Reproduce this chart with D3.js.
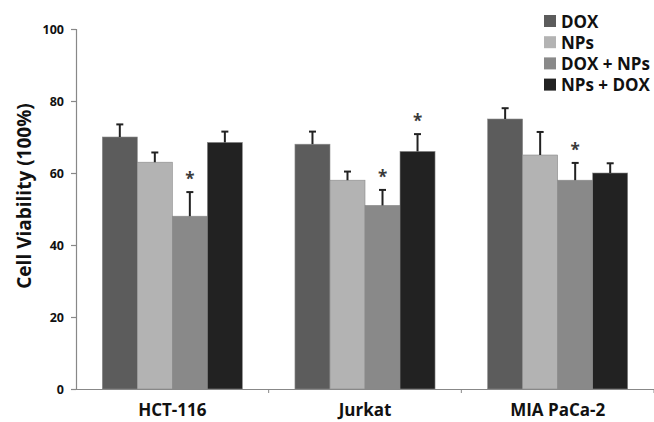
<!DOCTYPE html>
<html>
<head>
<meta charset="utf-8">
<script src="https://cdn.jsdelivr.net/npm/d3@7"></script>
<style>
  body { margin: 0; background: #fff; }
  text { font-family: "Open Sans", "Liberation Sans", sans-serif; font-weight: bold; }
</style>
</head>
<body>
<div id="chart"></div>
<script>
const cellLines = ["HCT-116", "Jurkat", "MIA PaCa-2"];
const treatments = ["DOX", "NPs", "DOX + NPs", "NPs + DOX"];
const colors = ["#5c5c5c", "#b3b3b3", "#898989", "#222222"];

// mean viability per treatment, one value per cell line
const doxValues = [70, 68, 75];
const npsValues = [63, 58, 65];
const doxNpsValues = [48, 51, 58];
const npsDoxValues = [68.5, 66, 60];

// upper error bar (SD)
const doxErr = [3.5, 3.5, 3];
const npsErr = [2.7, 2.4, 6.4];
const doxNpsErr = [6.7, 4.3, 4.8];
const npsDoxErr = [3, 4.8, 2.7];

// significance markers
const doxStars = [false, false, false];
const npsStars = [false, false, false];
const doxNpsStars = [true, true, true];
const npsDoxStars = [false, true, false];

const yTicks = [0, 20, 40, 60, 80, 100];

const seriesValues = [doxValues, npsValues, doxNpsValues, npsDoxValues];
const seriesErr = [doxErr, npsErr, doxNpsErr, npsDoxErr];
const seriesStars = [doxStars, npsStars, doxNpsStars, npsDoxStars];

const width = 654;
const height = 422;
const margin = { top: 29, right: 0, bottom: 33, left: 76 };

const svg = d3.select("#chart")
  .append("svg")
  .attr("width", width)
  .attr("height", height);

const x = d3.scaleBand()
  .domain(cellLines)
  .range([margin.left, width - margin.right])
  .paddingInner(0.273)
  .paddingOuter(0.1365);

const xInner = d3.scaleBand()
  .domain(treatments)
  .range([0, x.bandwidth()]);

const y = d3.scaleLinear()
  .domain([0, 100])
  .range([height - margin.bottom, margin.top]);

const rows = [];
cellLines.forEach((c, i) => {
  treatments.forEach((t, j) => {
    rows.push({
      cell: c,
      treatment: t,
      color: colors[j],
      value: seriesValues[j][i],
      err: seriesErr[j][i],
      star: seriesStars[j][i],
    });
  });
});

// bars
svg.append("g")
  .selectAll("rect")
  .data(rows)
  .join("rect")
  .attr("x", (d) => x(d.cell) + xInner(d.treatment))
  .attr("y", (d) => y(d.value))
  .attr("width", xInner.bandwidth())
  .attr("height", (d) => y(0) - y(d.value))
  .attr("fill", (d) => d.color)
  .attr("stroke", "#8a8a8a")
  .attr("stroke-width", 0.6);

// error bars
const errG = svg.append("g")
  .attr("stroke", "#222")
  .attr("stroke-width", 2);

const cx = (d) => x(d.cell) + xInner(d.treatment) + xInner.bandwidth() / 2;

errG.selectAll("line.stem")
  .data(rows)
  .join("line")
  .attr("class", "stem")
  .attr("x1", cx)
  .attr("x2", cx)
  .attr("y1", (d) => y(d.value))
  .attr("y2", (d) => y(d.value + d.err));

errG.selectAll("line.cap")
  .data(rows)
  .join("line")
  .attr("class", "cap")
  .attr("x1", (d) => cx(d) - 3.5)
  .attr("x2", (d) => cx(d) + 3.5)
  .attr("y1", (d) => y(d.value + d.err))
  .attr("y2", (d) => y(d.value + d.err));

// asterisks
svg.append("g")
  .selectAll("text")
  .data(rows.filter((d) => d.star))
  .join("text")
  .attr("x", cx)
  .attr("y", (d) => y(d.value + d.err) - 7)
  .attr("text-anchor", "middle")
  .attr("font-size", 17)
  .attr("font-weight", "normal")
  .attr("fill", "#3a3a3a")
  .text("*");

// y axis
const yAxis = svg.append("g")
  .attr("transform", `translate(${margin.left},0)`)
  .call(d3.axisLeft(y).tickValues(yTicks).tickSize(5).tickPadding(7));
yAxis.selectAll("path, line").attr("stroke", "#888").attr("stroke-width", 1.2);
yAxis.selectAll("text")
  .attr("font-size", 12.5)
  .attr("fill", "#111");

// x axis
const xAxis = svg.append("g")
  .attr("transform", `translate(0,${y(0)})`)
  .call(d3.axisBottom(x).tickSize(0).tickPadding(15));
xAxis.select("path").attr("stroke", "#888").attr("stroke-width", 1.2);
xAxis.selectAll("text")
  .attr("font-size", 17)
  .attr("fill", "#111");

// category separators
svg.append("g")
  .selectAll("line")
  .data(cellLines)
  .join("line")
  .attr("x1", (d) => x(d) + x.bandwidth() + (x.step() - x.bandwidth()) / 2)
  .attr("x2", (d) => x(d) + x.bandwidth() + (x.step() - x.bandwidth()) / 2)
  .attr("y1", y(0))
  .attr("y2", y(0) + 4)
  .attr("stroke", "#888");

// y title
svg.append("text")
  .attr("transform", `translate(31,${(y(0) + y(100)) / 2 - 13}) rotate(-90)`)
  .attr("text-anchor", "middle")
  .attr("font-size", 19)
  .attr("fill", "#111")
  .text("Cell Viability (100%)");

// legend
const legend = svg.append("g")
  .selectAll("g")
  .data(treatments)
  .join("g")
  .attr("transform", (d, i) => `translate(544,${15 + i * 21.2})`);

legend.append("rect")
  .attr("width", 12)
  .attr("height", 12)
  .attr("fill", (d, i) => colors[i]);

legend.append("text")
  .attr("x", 17)
  .attr("y", 12.5)
  .attr("font-size", 17)
  .attr("fill", "#111")
  .text((d) => d);
</script>
</body>
</html>
